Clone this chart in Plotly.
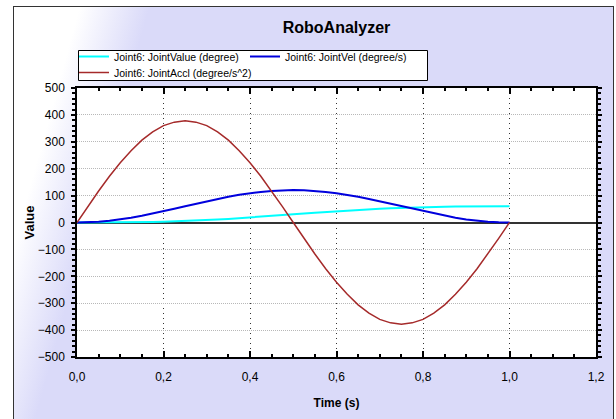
import base64
import plotly.graph_objects as go

# ---- data ----
time_s = [round(0.025 * k, 3) for k in range(41)]
joint_value = [0.0, 0.0, 0.1, 0.2, 0.4, 0.8, 1.3, 2.0, 2.9, 4.1, 5.5, 7.1, 9.0, 11.0, 13.3, 15.8,
               18.5, 21.2, 24.1, 27.1, 30.1, 33.1, 36.1, 39.0, 41.8, 44.4, 46.9, 49.2, 51.3, 53.1,
               54.7, 56.1, 57.3, 58.2, 58.9, 59.5, 59.8, 60.0, 60.1, 60.2, 60.2]
joint_vel = [0.0, 0.7, 2.9, 6.6, 11.5, 17.6, 24.8, 32.9, 41.6, 50.8, 60.2, 69.6, 78.8, 87.5, 95.6,
             102.8, 108.9, 113.8, 117.5, 119.7, 120.4, 119.7, 117.5, 113.8, 108.9, 102.8, 95.6,
             87.5, 78.8, 69.6, 60.2, 50.8, 41.6, 32.9, 24.8, 17.6, 11.5, 6.6, 2.9, 0.7, 0.0]
joint_accl = [0, 59, 117, 172, 222, 267, 306, 337, 360, 373, 378, 373, 360, 337, 306, 267, 222,
              172, 117, 59, 0, -59, -117, -172, -222, -267, -306, -337, -360, -373, -378, -373,
              -360, -337, -306, -267, -222, -172, -117, -59, 0]
series_names = ["Joint6: JointValue (degree)", "Joint6: JointVel (degree/s)",
                "Joint6: JointAccl (degree/s^2)"]
x_ticks = [0.0, 0.2, 0.4, 0.6, 0.8, 1.0, 1.2]
y_ticks = [-500, -400, -300, -200, -100, 0, 100, 200, 300, 400, 500]

# ---- layout geometry (pixels) ----
W, H = 616, 419
L, R, T, B = 77, 20, 88, 62
PW, PH = W - L - R, H - T - B

def px_x(p):
    return (p - L) / PW

def px_y(p):
    return (H - B - p) / PH

FONT = "Liberation Sans, Arial, sans-serif"

svg = f'''<svg xmlns="http://www.w3.org/2000/svg" width="{W}" height="{H}" viewBox="0 0 {W} {H}" preserveAspectRatio="none">
<defs><linearGradient id="g" gradientUnits="userSpaceOnUse" x1="76" y1="20" x2="141" y2="38">
<stop offset="0" stop-color="#ffffff"/><stop offset="1" stop-color="#dadaf9"/></linearGradient></defs>
<rect width="{W}" height="{H}" fill="#ffffff"/>
<rect x="13.5" y="6.5" width="600" height="430" fill="url(#g)" stroke="#333333" stroke-width="1"/>
</svg>'''
src = "data:image/svg+xml;base64," + base64.b64encode(svg.encode()).decode()

fig = go.Figure()
colors = ["#00ffff", "#0000dd", "#a52a2a"]
widths = [2, 2, 1.5]
legends = ["legend", "legend", "legend2"]
for name, ys, c, w, lg in zip(series_names, [joint_value, joint_vel, joint_accl], colors, widths, legends):
    fig.add_trace(go.Scatter(x=time_s, y=ys, mode="lines", name=name, legend=lg,
                             line=dict(color=c, width=w)))

legend_style = dict(orientation="h", xanchor="left", yanchor="top",
                    bgcolor="rgba(0,0,0,0)", borderwidth=0,
                    font=dict(family=FONT, size=10.5, color="#000000"), itemwidth=30)

fig.update_layout(
    width=W, height=H,
    margin=dict(l=L, r=R, t=T, b=B, pad=0),
    paper_bgcolor="#ffffff",
    plot_bgcolor="rgba(0,0,0,0)",
    separators=",.",
    font=dict(family=FONT, size=12, color="#000000"),
    title=dict(text="<b>RoboAnalyzer</b>", x=0.5, xref="paper", xanchor="center",
               y=1 - 27 / H, yref="container", yanchor="middle",
               font=dict(family=FONT, size=16, color="#000000")),
    showlegend=True,
    legend=dict(x=px_x(74), y=px_y(42), entrywidth=126, **legend_style),
    legend2=dict(x=px_x(74), y=px_y(58), **legend_style),
    images=[dict(source=src, xref="paper", yref="paper", x=-L / PW, y=1 + T / PH,
                 sizex=W / PW, sizey=H / PH, xanchor="left", yanchor="top",
                 sizing="stretch", layer="below")],
    shapes=[
        dict(type="rect", xref="paper", yref="paper", x0=0, x1=1, y0=0, y1=1,
             fillcolor="#ffffff", line=dict(width=0), layer="below"),
        dict(type="rect", xref="paper", yref="paper", x0=px_x(78.5), x1=px_x(427.5),
             y0=px_y(80.5), y1=px_y(50.5), fillcolor="#ffffff",
             line=dict(color="#000000", width=1), layer="below"),
    ],
)

fig.update_xaxes(
    range=[0, 1.2], tickvals=x_ticks, tickformat=".1f",
    showline=True, linecolor="#000000", linewidth=1.5, mirror="ticks",
    ticks="inside", ticklen=6, tickcolor="#000000", tickwidth=1.5,
    minor=dict(dtick=0.05, ticks="inside", ticklen=3, tickcolor="#000000", showgrid=False),
    showgrid=True, gridcolor="#333333", griddash="1px,4px", gridwidth=1,
    zeroline=False, ticklabelstandoff=8,
    tickfont=dict(family=FONT, size=12, color="#000000"),
    title=dict(text="<b>Time (s)</b>", font=dict(family=FONT, size=12, color="#000000"),
               standoff=15),
)
fig.update_yaxes(
    range=[-500, 500], tickvals=y_ticks,
    showline=True, linecolor="#000000", linewidth=1.5, mirror="ticks",
    ticks="outside", ticklen=4, tickcolor="#000000", tickwidth=1.5,
    minor=dict(dtick=20, ticks="outside", ticklen=3, tickcolor="#000000", showgrid=False),
    showgrid=True, gridcolor="#b8b8b8", griddash="1px,1px", gridwidth=1,
    zeroline=True, zerolinecolor="#333333", zerolinewidth=2,
    ticklabelstandoff=4,
    tickfont=dict(family=FONT, size=12, color="#000000"),
    title=dict(text="<b>Value</b>", font=dict(family=FONT, size=13, color="#000000"),
               standoff=0),
)

fig.write_html("out.html", config={"displayModeBar": False},
               post_script="document.body.style.margin='0';")
